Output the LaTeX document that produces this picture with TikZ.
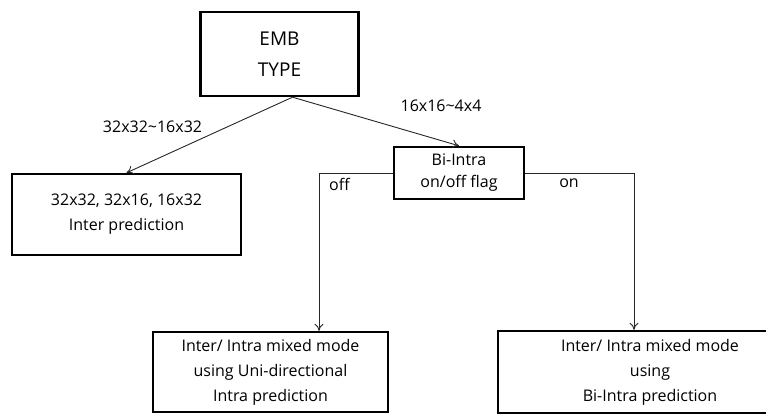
\documentclass[tikz,border=0pt]{standalone}
\usepackage{fontspec}
\setmainfont{Open Sans}
\usetikzlibrary{arrows.meta}
\begin{document}
\begin{tikzpicture}[x=1pt,y=-1pt,font=\fontsize{16}{25}\selectfont,
  box/.style={draw, line width=2.4pt, align=center, inner sep=0pt},
  link/.style={line width=0.9pt, draw=black!85},
  arr/.style={link, -{To[length=7pt,width=9pt]}}]
\useasboundingbox (0,0) rectangle (766,414);
\clip (0,0) rectangle (766,414);

\node[box, minimum width=158, minimum height=84, font=\fontsize{19}{31}\selectfont] (emb) at (279.5,54) {EMB\\TYPE};
\node[box, minimum width=229, minimum height=81] (inter) at (126.5,214.5) {32x32, 32x16, 16x32\\Inter prediction};
\node[box, minimum width=130, minimum height=52, font=\fontsize{16}{22}\selectfont] (flag) at (459,173) {Bi-Intra\\on/off flag};
\node[box, minimum width=235, minimum height=80] (uni) at (270.5,372) {Inter/ Intra mixed mode\\using Uni-directional\\Intra prediction};
\node[box, minimum width=304, minimum height=82] (bi) at (650,372) {Inter/ Intra mixed mode\\using\\Bi-Intra prediction};

\coordinate (split) at ([xshift=13pt]emb.south);
\coordinate (offcorner) at (319,173);
\coordinate (oncorner) at (634,173);

\draw[arr] (split) -- (inter.north);
\draw[arr] (split) -- (flag.north);
\draw[arr] (flag.west) -- (offcorner) -- (offcorner |- uni.north);
\draw[arr] (flag.east) -- (oncorner) -- (oncorner |- bi.north);

\node (lbig) at (152.5,127) {32x32\textasciitilde16x32};
\node (lsmall) at (441,106) {16x16\textasciitilde4x4};
\node (loff) at (339.5,184) {off};
\node (lon) at (569,183) {on};
\end{tikzpicture}
\end{document}
